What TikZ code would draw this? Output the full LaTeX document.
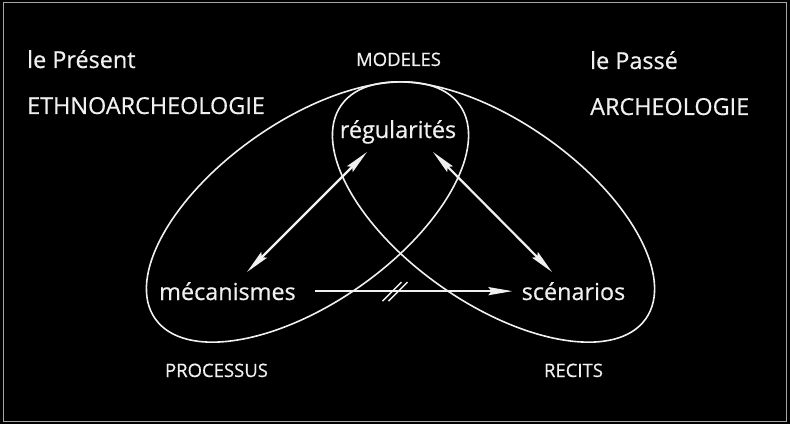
\documentclass[tikz,border=0pt]{standalone}
\usepackage{fontspec}
\setmainfont{Open Sans}[FakeBold=0.5]
\usetikzlibrary{arrows.meta}
\definecolor{cadre}{gray}{0.65}
\definecolor{blanc}{gray}{0.94}
\tikzset{
  grand/.style={inner sep=0pt, text=blanc, font=\fontsize{23.4}{27}\selectfont},
  petit/.style={inner sep=0pt, text=blanc, font=\fontsize{18.5}{22}\selectfont},
  contour/.style={draw=blanc, line width=1.6pt},
  pointe/.tip={Stealth[length=24pt,width=8pt,inset=3pt]},
  fleche/.style={draw=blanc, line width=2.2pt, -pointe},
  dfleche/.style={draw=blanc, line width=2.2pt, pointe-pointe}
}
\begin{document}
\begin{tikzpicture}[x=1pt,y=1pt]
% 背景与边框
\useasboundingbox (0,0) rectangle (790,424);
\fill[black] (0,0) rectangle (790,424);
\draw[cadre, line width=1.5pt] (3.5,2.5) rectangle (786.5,421.5);
% 两个椭圆
\coordinate (gauche) at (307.5,212);
\coordinate (droite) at (493.5,212);
\draw[contour, rotate around={35:(gauche)}] (gauche) ellipse (186pt and 91pt);
\draw[contour, rotate around={-35:(droite)}] (droite) ellipse (186pt and 91pt);
% 标题文字
\node[grand, anchor=base west] (present) at (27,356) {le Présent};
\node[grand, anchor=base west] (ethno) at (27,310) {ETHNOARCHEOLOGIE};
\node[grand, anchor=base west] (passe) at (590,355) {le Passé};
\node[grand, anchor=base west] (archeo) at (590,309) {ARCHEOLOGIE};
\node[petit, anchor=base] (modeles) at (398.5,358) {MODELES};
\node[petit, anchor=base] (processus) at (216.5,47) {PROCESSUS};
\node[petit, anchor=base] (recits) at (573.5,47) {RECITS};
% 三个概念
\node[grand, anchor=base] (regul) at (398,286) {régularités};
\node[grand, anchor=base] (meca) at (227.5,124) {mécanismes};
\node[grand, anchor=base] (scen) at (573.5,124) {scénarios};
% 箭头端点
\coordinate (mr) at (247,152);
\coordinate (rm) at (367,272);
\coordinate (rs) at (433,272);
\coordinate (sr) at (552,152);
\draw[dfleche] (mr) -- (rm);
\draw[dfleche] (rs) -- (sr);
\draw[fleche, shorten <=19pt, shorten >=9pt] (meca.east) -- (scen.west);
% 中断记号
\coordinate (coupure) at (395,132.4);
\draw[blanc, line width=1.5pt] (coupure) ++(-12.5,-9.5) -- ++(19,19);
\draw[blanc, line width=1.5pt] (coupure) ++(-6.5,-9.5) -- ++(19,19);
\end{tikzpicture}
\end{document}
